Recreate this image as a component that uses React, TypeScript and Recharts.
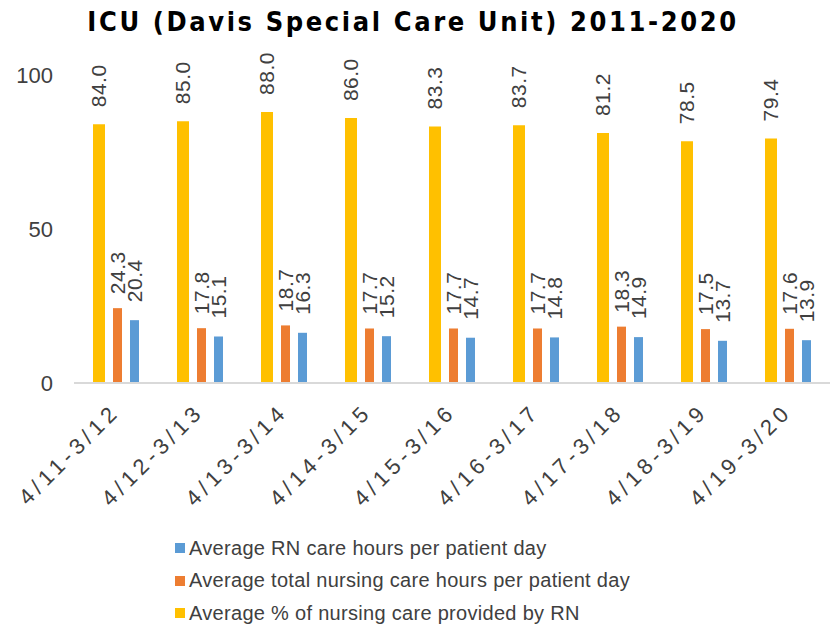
import React from 'react';
import { BarChart, Bar, XAxis, YAxis, Legend, LabelList } from 'recharts';

const categories = ['4/11-3/12', '4/12-3/13', '4/13-3/14', '4/14-3/15', '4/15-3/16', '4/16-3/17', '4/17-3/18', '4/18-3/19', '4/19-3/20'];
const pctByRN = [84.0, 85.0, 88.0, 86.0, 83.3, 83.7, 81.2, 78.5, 79.4];
const totalHours = [24.3, 17.8, 18.7, 17.7, 17.7, 17.7, 18.3, 17.5, 17.6];
const rnHours = [20.4, 15.1, 16.3, 15.2, 14.7, 14.8, 14.9, 13.7, 13.9];
const yTicks = [0, 50, 100];

const data = categories.map((c, i) => ({ cat: c, pct: pctByRN[i], total: totalHours[i], rn: rnHours[i] }));

const FONT = '"Liberation Sans", Arial, sans-serif';
const TEXT = '#404040';

const legendItems = [
  { name: 'Average RN care hours per patient day', color: '#5B9BD5' },
  { name: 'Average total nursing care hours per patient day', color: '#ED7D31' },
  { name: 'Average % of nursing care provided by RN', color: '#FFC000' },
];

const makeLabel = (off: number) => (props: any) => {
  const { x, y, width, value } = props;
  const cx = x + width / 2;
  const cy = y - off;
  return (
    <text x={cx} y={cy} transform={`rotate(-90, ${cx}, ${cy})`} textAnchor="start" dominantBaseline="central"
      fontFamily={FONT} fontSize={21} fill={TEXT} letterSpacing={0.5}>
      {Number(value).toFixed(1)}
    </text>
  );
};

const XTick = (props: any) => {
  const { x, y, payload } = props;
  const px = x + 5;
  const py = y + 22;
  return (
    <text x={px} y={py} transform={`rotate(-45, ${px}, ${py})`} textAnchor="end" fontFamily={FONT} fontSize={22} fill={TEXT} letterSpacing={4.5}>
      {payload.value}
    </text>
  );
};

const LegendContent = () => (
  <div style={{ fontFamily: FONT, fontSize: 20, color: TEXT, letterSpacing: 0.3 }}>
    {legendItems.map((it) => (
      <div key={it.name} style={{ display: 'flex', alignItems: 'center', height: 32.5, whiteSpace: 'nowrap' }}>
        <span style={{ display: 'inline-block', width: 10, height: 10, background: it.color, marginRight: 4 }} />
        <span>{it.name}</span>
      </div>
    ))}
  </div>
);

export default function App() {
  return (
    <div style={{ position: 'absolute', left: 0, top: 0, width: 831, height: 634, background: '#fff' }}>
      <BarChart width={831} height={634} data={data} margin={{ top: 75, right: 1, bottom: 111, left: 0 }} barGap={8}>
        <text x={413} y={31} textAnchor="middle" fontFamily='"DejaVu Sans", sans-serif' fontStretch="condensed" fontWeight="bold" fontSize={27} letterSpacing={2.6} fill="#000">
          ICU (Davis Special Care Unit) 2011-2020
        </text>
        <XAxis dataKey="cat" interval={0} height={140} tick={<XTick />} tickLine={false} axisLine={{ stroke: '#D9D9D9', strokeWidth: 2 }} />
        <YAxis domain={[0, 100]} ticks={yTicks} width={74} axisLine={false} tickLine={false} tickSize={0} tickMargin={21}
          tick={{ fontFamily: FONT, fontSize: 22, fill: TEXT }} />
        <Legend layout="vertical" align="center" verticalAlign="middle" content={<LegendContent />}
          wrapperStyle={{ left: 175, top: 532, width: 520, height: 100 }} />
        <Bar dataKey="pct" fill="#FFC000" barSize={12} isAnimationActive={false}>
          <LabelList dataKey="pct" content={makeLabel(17)} />
        </Bar>
        <Bar dataKey="total" fill="#ED7D31" barSize={9} isAnimationActive={false}>
          <LabelList dataKey="total" content={makeLabel(14)} />
        </Bar>
        <Bar dataKey="rn" fill="#5B9BD5" barSize={9} isAnimationActive={false}>
          <LabelList dataKey="rn" content={makeLabel(18)} />
        </Bar>
      </BarChart>
    </div>
  );
}
